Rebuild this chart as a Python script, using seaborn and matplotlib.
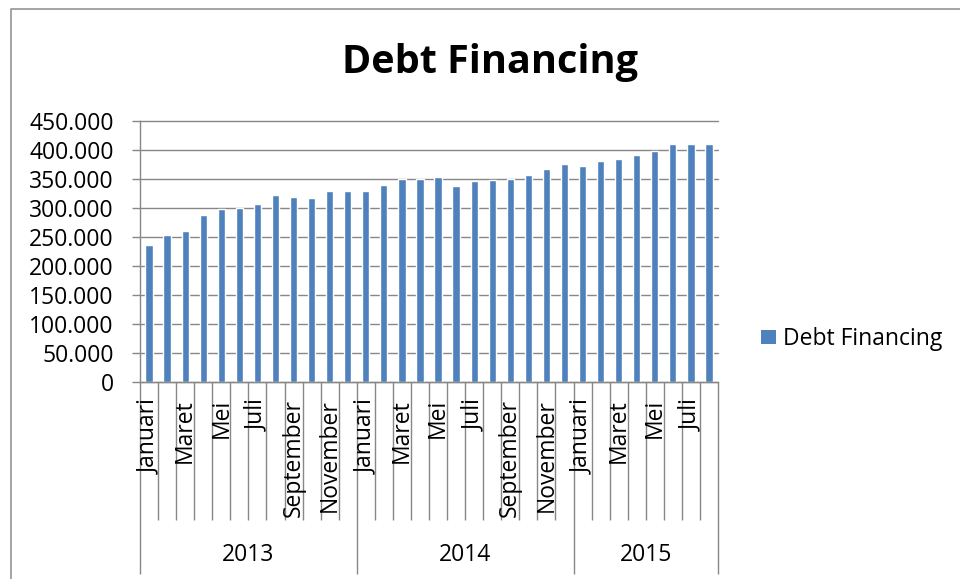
import matplotlib
matplotlib.use("Agg")
import matplotlib.pyplot as plt
from matplotlib.lines import Line2D
from matplotlib.patches import Patch
from matplotlib.ticker import FuncFormatter, MultipleLocator
import matplotlib.transforms as mtransforms
import numpy as np
import pandas as pd
import seaborn as sns

# Monthly debt financing, Jan 2013 - Aug 2015
months_id = ["Januari", "Februari", "Maret", "April", "Mei", "Juni", "Juli",
             "Agustus", "September", "Oktober", "November", "Desember"]
years = ["2013", "2014", "2015"]
months_per_year = [12, 12, 8]
values_2013 = [236000, 253000, 260000, 288000, 298000, 300000,
               307000, 322000, 319000, 317000, 330000, 330000]
values_2014 = [329000, 340000, 350000, 351000, 354000, 339000,
               347000, 349000, 350000, 357000, 368000, 376000]
values_2015 = [373000, 381000, 385000, 392000, 399000, 410000,
               410000, 410000]
series_name = "Debt Financing"

rows = []
for year, n, vals in zip(years, months_per_year, [values_2013, values_2014, values_2015]):
    for m in range(n):
        rows.append({"period": f"{year}-{m + 1:02d}", "year": year,
                     "month": months_id[m], "value": vals[m]})
df = pd.DataFrame(rows)

BAR = "#4F81BD"
GRID = "#878787"
FS = 16.5

sns.set_theme(style="white")
plt.rcParams["font.family"] = ["Open Sans", "DejaVu Sans"]
plt.rcParams["text.color"] = "black"

W, H = 960, 579
fig = plt.figure(figsize=(W / 100, H / 100), dpi=100)
fig.patch.set_facecolor("white")

ax_left, ax_right, ax_top, ax_bot = 140, 718, 121.3, 382
ax = fig.add_axes([ax_left / W, 1 - ax_bot / H,
                   (ax_right - ax_left) / W, (ax_bot - ax_top) / H])

sns.barplot(data=df, x="period", y="value", color=BAR, saturation=1,
            width=0.4, ax=ax, errorbar=None)

n = len(df)
ax.set_xlim(-0.5, n - 0.5)
ax.set_ylim(0, 450000)
ax.yaxis.set_major_locator(MultipleLocator(50000))
ax.yaxis.set_major_formatter(FuncFormatter(lambda v, p: f"{int(round(v)):,}".replace(",", ".")))
ax.set_xlabel("")
ax.set_ylabel("")

ax.grid(axis="y", color=GRID, linewidth=1.0)
ax.set_axisbelow(True)
for gl in ax.get_ygridlines():
    gl.set_clip_on(False)

for side in ["top", "right"]:
    ax.spines[side].set_visible(False)
for side in ["left", "bottom"]:
    ax.spines[side].set_color(GRID)
    ax.spines[side].set_linewidth(1.0)

ax.tick_params(axis="y", which="major", direction="out", length=5.8, width=1.0,
               color=GRID, pad=13, labelsize=FS, labelcolor="black", left=True)
ax.tick_params(axis="x", bottom=False, labelbottom=False)

# Two-level category axis: month labels and year groups
trans = mtransforms.blended_transform_factory(ax.transData, ax.transAxes)
ah = ax_bot - ax_top
def frac(px):
    return (ax_bot - px) / ah

boundaries = set()
pos = -0.5
for c in months_per_year:
    boundaries.add(round(pos, 1))
    pos += c
boundaries.add(round(pos, 1))

for i in range(n + 1):
    xb = i - 0.5
    y_end = frac(574) if round(xb, 1) in boundaries else frac(520)
    ax.plot([xb, xb], [0, y_end], transform=trans, color=GRID,
            linewidth=1.0, clip_on=False, solid_capstyle="butt")

for i, row in df.iterrows():
    if months_id.index(row["month"]) % 2 == 0:
        ax.text(i, frac(399), row["month"], transform=trans, rotation=90,
                ha="center", va="top", fontsize=FS, color="black")

start = 0
for year, c in zip(years, months_per_year):
    ax.text(start + (c - 1) / 2, frac(555), year, transform=trans,
            ha="center", va="center", fontsize=FS, color="black")
    start += c

# Title and legend
fig.text(490 / W, 1 - 63 / H, series_name, ha="center", va="center",
         fontsize=28.5, fontweight="bold", color="black")

handle = Patch(facecolor=BAR, edgecolor="none", label=series_name)
ax.legend(handles=[handle], loc="center left",
          bbox_to_anchor=(761 / W, 1 - 339 / H), bbox_transform=fig.transFigure,
          frameon=False, fontsize=FS, handlelength=0.65, handleheight=0.62,
          handletextpad=0.3, borderpad=0, borderaxespad=0)

# Chart frame (left and top edges)
frame_col = "#8C8C8C"
fig.add_artist(Line2D([10.5 / W, 10.5 / W, 1.0], [0.0, 1 - 9 / H, 1 - 9 / H],
                      transform=fig.transFigure, color=frame_col, linewidth=1.1))

fig.savefig("out.png", dpi=100, facecolor="white")
